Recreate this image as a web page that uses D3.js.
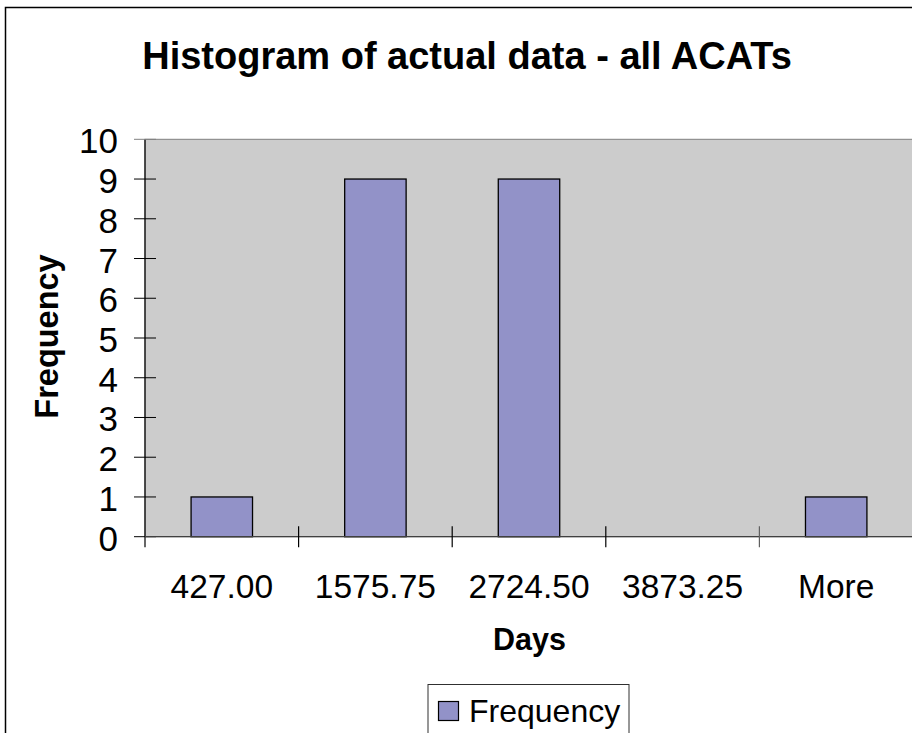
<!DOCTYPE html>
<html>
<head>
<meta charset="utf-8">
<script src="https://d3js.org/d3.v7.min.js"></script>
<style>
  body { margin: 0; background: #fff; }
  text { font-family: "Liberation Sans", Arial, sans-serif; fill: #000; }
</style>
</head>
<body>
<div id="chart"></div>
<script>
// histogram bins and counts
var bins = ["427.00", "1575.75", "2724.50", "3873.25", "More"];
var frequency = [1, 9, 9, 0, 1];
var yTicks = [0, 1, 2, 3, 4, 5, 6, 7, 8, 9, 10];

function createAxis(svg, x, y, plot) {
    // y axis line + crossing ticks
    svg.append("line")
       .attr("x1", plot.left).attr("x2", plot.left)
       .attr("y1", plot.top).attr("y2", plot.bottom + 10.5)
       .attr("stroke", "#000").attr("stroke-width", 1.2);

    svg.selectAll(".ytick")
       .data(yTicks)
       .enter()
       .append("line")
       .attr("class", "ytick")
       .attr("x1", plot.left - 11).attr("x2", plot.left + 11)
       .attr("y1", function(d) { return y(d); })
       .attr("y2", function(d) { return y(d); })
       .attr("stroke", function(d) { return d === 10 ? "#808080" : "#000"; })
       .attr("stroke-width", 1);

    svg.selectAll(".ylabel")
       .data(yTicks)
       .enter()
       .append("text")
       .attr("class", "ylabel")
       .attr("x", plot.left - 27)
       .attr("y", function(d) { return y(d); })
       .attr("dy", "0.4em")
       .attr("text-anchor", "end")
       .style("font-size", "35px")
       .text(function(d) { return d; });

    // x axis line + ticks at bin boundaries
    svg.append("line")
       .attr("x1", plot.left).attr("x2", plot.right)
       .attr("y1", plot.bottom).attr("y2", plot.bottom)
       .attr("stroke", "#404040").attr("stroke-width", 1.2);

    svg.selectAll(".xtick")
       .data(bins.slice(1))
       .enter()
       .append("line")
       .attr("class", "xtick")
       .attr("x1", function(d) { return x(d); })
       .attr("x2", function(d) { return x(d); })
       .attr("y1", plot.bottom - 10.5).attr("y2", plot.bottom + 10.5)
       .attr("stroke", function(d, i) { return i === 3 ? "#606060" : "#000"; })
       .attr("stroke-width", 1.2);

    svg.selectAll(".xlabel")
       .data(bins)
       .enter()
       .append("text")
       .attr("class", "xlabel")
       .attr("x", function(d) { return x(d) + x.bandwidth() / 2; })
       .attr("y", plot.bottom + 61.5)
       .attr("text-anchor", "middle")
       .style("font-size", "33.5px")
       .text(function(d) { return d; });
}

function createBars(svg, x, y, plot) {
    svg.selectAll(".bar")
       .data(bins.map(function(b, i) { return {bin: b, v: frequency[i]}; }))
       .enter()
       .filter(function(d) { return d.v > 0; })
       .append("rect")
       .attr("class", "bar")
       .attr("x", function(d) { return x(d.bin) + x.bandwidth() * 0.3; })
       .attr("y", function(d) { return y(d.v); })
       .attr("width", x.bandwidth() * 0.4)
       .attr("height", function(d) { return plot.bottom - y(d.v); })
       .style("fill", "#9292C8")
       .style("stroke", "#000")
       .style("stroke-width", 1.3);
}

(function (d3) {
    var W = 912, H = 733;
    var plot = {left: 145, right: 913, top: 139.3, bottom: 536.7};

    var svg = d3.select("#chart")
                .append("svg")
                .attr("width", W)
                .attr("height", H);

    // chart area border
    svg.append("rect")
       .attr("x", 5.5).attr("y", 7.5)
       .attr("width", W + 10).attr("height", H + 10)
       .attr("fill", "#fff")
       .attr("stroke", "#000").attr("stroke-width", 1.5);

    var x = d3.scaleBand().range([plot.left, plot.right]).domain(bins).padding(0);
    var y = d3.scaleLinear().range([plot.bottom, plot.top]).domain([0, 10]);

    // plot area
    svg.append("rect")
       .attr("x", plot.left).attr("y", plot.top)
       .attr("width", plot.right - plot.left)
       .attr("height", plot.bottom - plot.top)
       .attr("fill", "#CCCCCC")
       .attr("stroke", "#808080").attr("stroke-width", 1);

    createBars(svg, x, y, plot);
    createAxis(svg, x, y, plot);

    svg.append("text")
       .attr("x", 467).attr("y", 69)
       .attr("text-anchor", "middle")
       .style("font-size", "38px").style("font-weight", "bold")
       .text("Histogram of actual data - all ACATs");

    svg.append("text")
       .attr("x", 529.5).attr("y", 650)
       .attr("text-anchor", "middle")
       .style("font-size", "30.5px").style("font-weight", "bold")
       .text("Days");

    svg.append("text")
       .attr("transform", "translate(58,336.5) rotate(-90)")
       .attr("text-anchor", "middle")
       .style("font-size", "32.5px").style("font-weight", "bold")
       .text("Frequency");

    // legend
    var legend = svg.append("g");
    legend.append("rect")
          .attr("x", 428).attr("y", 684.5)
          .attr("width", 201).attr("height", 60)
          .attr("fill", "#fff")
          .attr("stroke", "#303030").attr("stroke-width", 1);
    legend.append("rect")
          .attr("x", 438.5).attr("y", 701.5)
          .attr("width", 20).attr("height", 19)
          .style("fill", "#9292C8")
          .style("stroke", "#000").style("stroke-width", 1.2);
    legend.append("text")
          .attr("x", 469).attr("y", 721.5)
          .style("font-size", "32px")
          .text("Frequency");
})(d3);
</script>
</body>
</html>
